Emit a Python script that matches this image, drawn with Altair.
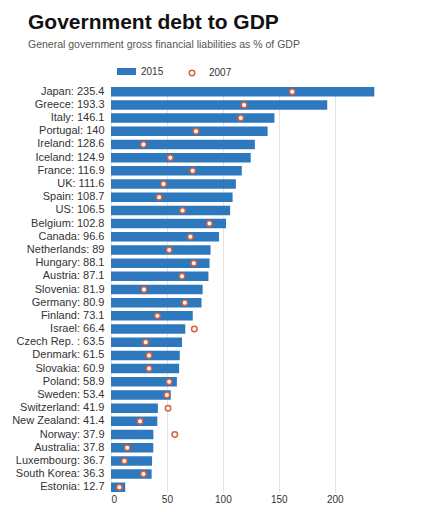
import altair as alt
import pandas as pd

names = ["Japan", "Greece", "Italy", "Portugal", "Ireland", "Iceland", "France", "UK",
         "Spain", "US", "Belgium", "Canada", "Netherlands", "Hungary", "Austria",
         "Slovenia", "Germany", "Finland", "Israel", "Czech Rep. ", "Denmark", "Slovakia",
         "Poland", "Sweden", "Switzerland", "New Zealand", "Norway", "Australia",
         "Luxembourg", "South Korea", "Estonia"]
debt_2015 = [235.4, 193.3, 146.1, 140, 128.6, 124.9, 116.9, 111.6, 108.7, 106.5, 102.8,
             96.6, 89, 88.1, 87.1, 81.9, 80.9, 73.1, 66.4, 63.5, 61.5, 60.9, 58.9, 53.4,
             41.9, 41.4, 37.9, 37.8, 36.7, 36.3, 12.7]
debt_2007 = [162, 119, 116, 76, 29, 53, 73, 47, 43, 64, 88, 71, 52, 74, 63.5, 29.5, 66,
             41.5, 74.5, 31, 34, 34, 52, 50, 51, 26, 57, 14.5, 12, 29, 7.5]
x_ticks = [0, 50, 100, 150, 200]

labels = [f"{n}: {v:g}" for n, v in zip(names, debt_2015)]
df = pd.DataFrame({"label": labels, "v2015": debt_2015, "v2007": debt_2007,
                   "s15": "2015", "s07": "2007"})

FONT = "Liberation Sans"
BLUE = "#2e78bd"
ORANGE = "#d9603b"

y_enc = alt.Y("label:N", sort=labels, title=None,
              scale=alt.Scale(paddingInner=0.28, paddingOuter=0),
              axis=alt.Axis(ticks=False, domain=False, labelPadding=7, labelFontSize=11,
                            labelColor="#333", labelFont=FONT))

bars = alt.Chart(df).mark_bar().encode(
    y=y_enc,
    x=alt.X("v2015:Q", title=None, scale=alt.Scale(domain=[0, 236], nice=False),
            axis=alt.Axis(values=x_ticks, ticks=False, domain=False, grid=True,
                          gridColor="#e4e4e4", labelColor="#333", labelFontSize=10,
                          labelFont=FONT, labelPadding=2)),
    fill=alt.Fill("s15:N", scale=alt.Scale(domain=["2015"], range=[BLUE]),
                  legend=alt.Legend(title=None, orient="none", legendX=6, legendY=-25,
                                    symbolType="M-1,-0.37L1,-0.37L1,0.37L-1,0.37Z",
                                    symbolSize=361, symbolStrokeWidth=0,
                                    labelFontSize=10, labelColor="#333", labelFont=FONT,
                                    labelOffset=5)),
)

points = alt.Chart(df).mark_point(filled=True, fill="white", size=30, strokeWidth=1.5,
                                  opacity=1).encode(
    y=alt.Y("label:N", sort=labels),
    x=alt.X("v2007:Q"),
    stroke=alt.Stroke("s07:N", scale=alt.Scale(domain=["2007"], range=[ORANGE]),
                      legend=alt.Legend(title=None, orient="none", legendX=76, legendY=-19,
                                        symbolType="circle", symbolSize=30,
                                        symbolFillColor="white", symbolStrokeWidth=1.5,
                                        labelFontSize=10, labelColor="#333",
                                        labelFont=FONT, labelOffset=12)),
)

chart = alt.layer(bars, points).properties(
    width=264,
    height=405,
    autosize=alt.AutoSizeParams(type="none"),
    padding={"left": 103, "top": 79, "right": 40, "bottom": 12},
    title=alt.TitleParams(
        "Government debt to GDP",
        subtitle="General government gross financial liabilities as % of GDP",
        anchor="start", frame="group", dx=-83,
        font=FONT, fontSize=21, fontWeight="bold", color="#111",
        subtitleFont=FONT, subtitleFontSize=10.5, subtitleColor="#555",
        subtitlePadding=7, offset=12,
    ),
).configure_view(strokeWidth=0)

chart.save("out.html", embed_options={"renderer": "svg", "actions": False})
